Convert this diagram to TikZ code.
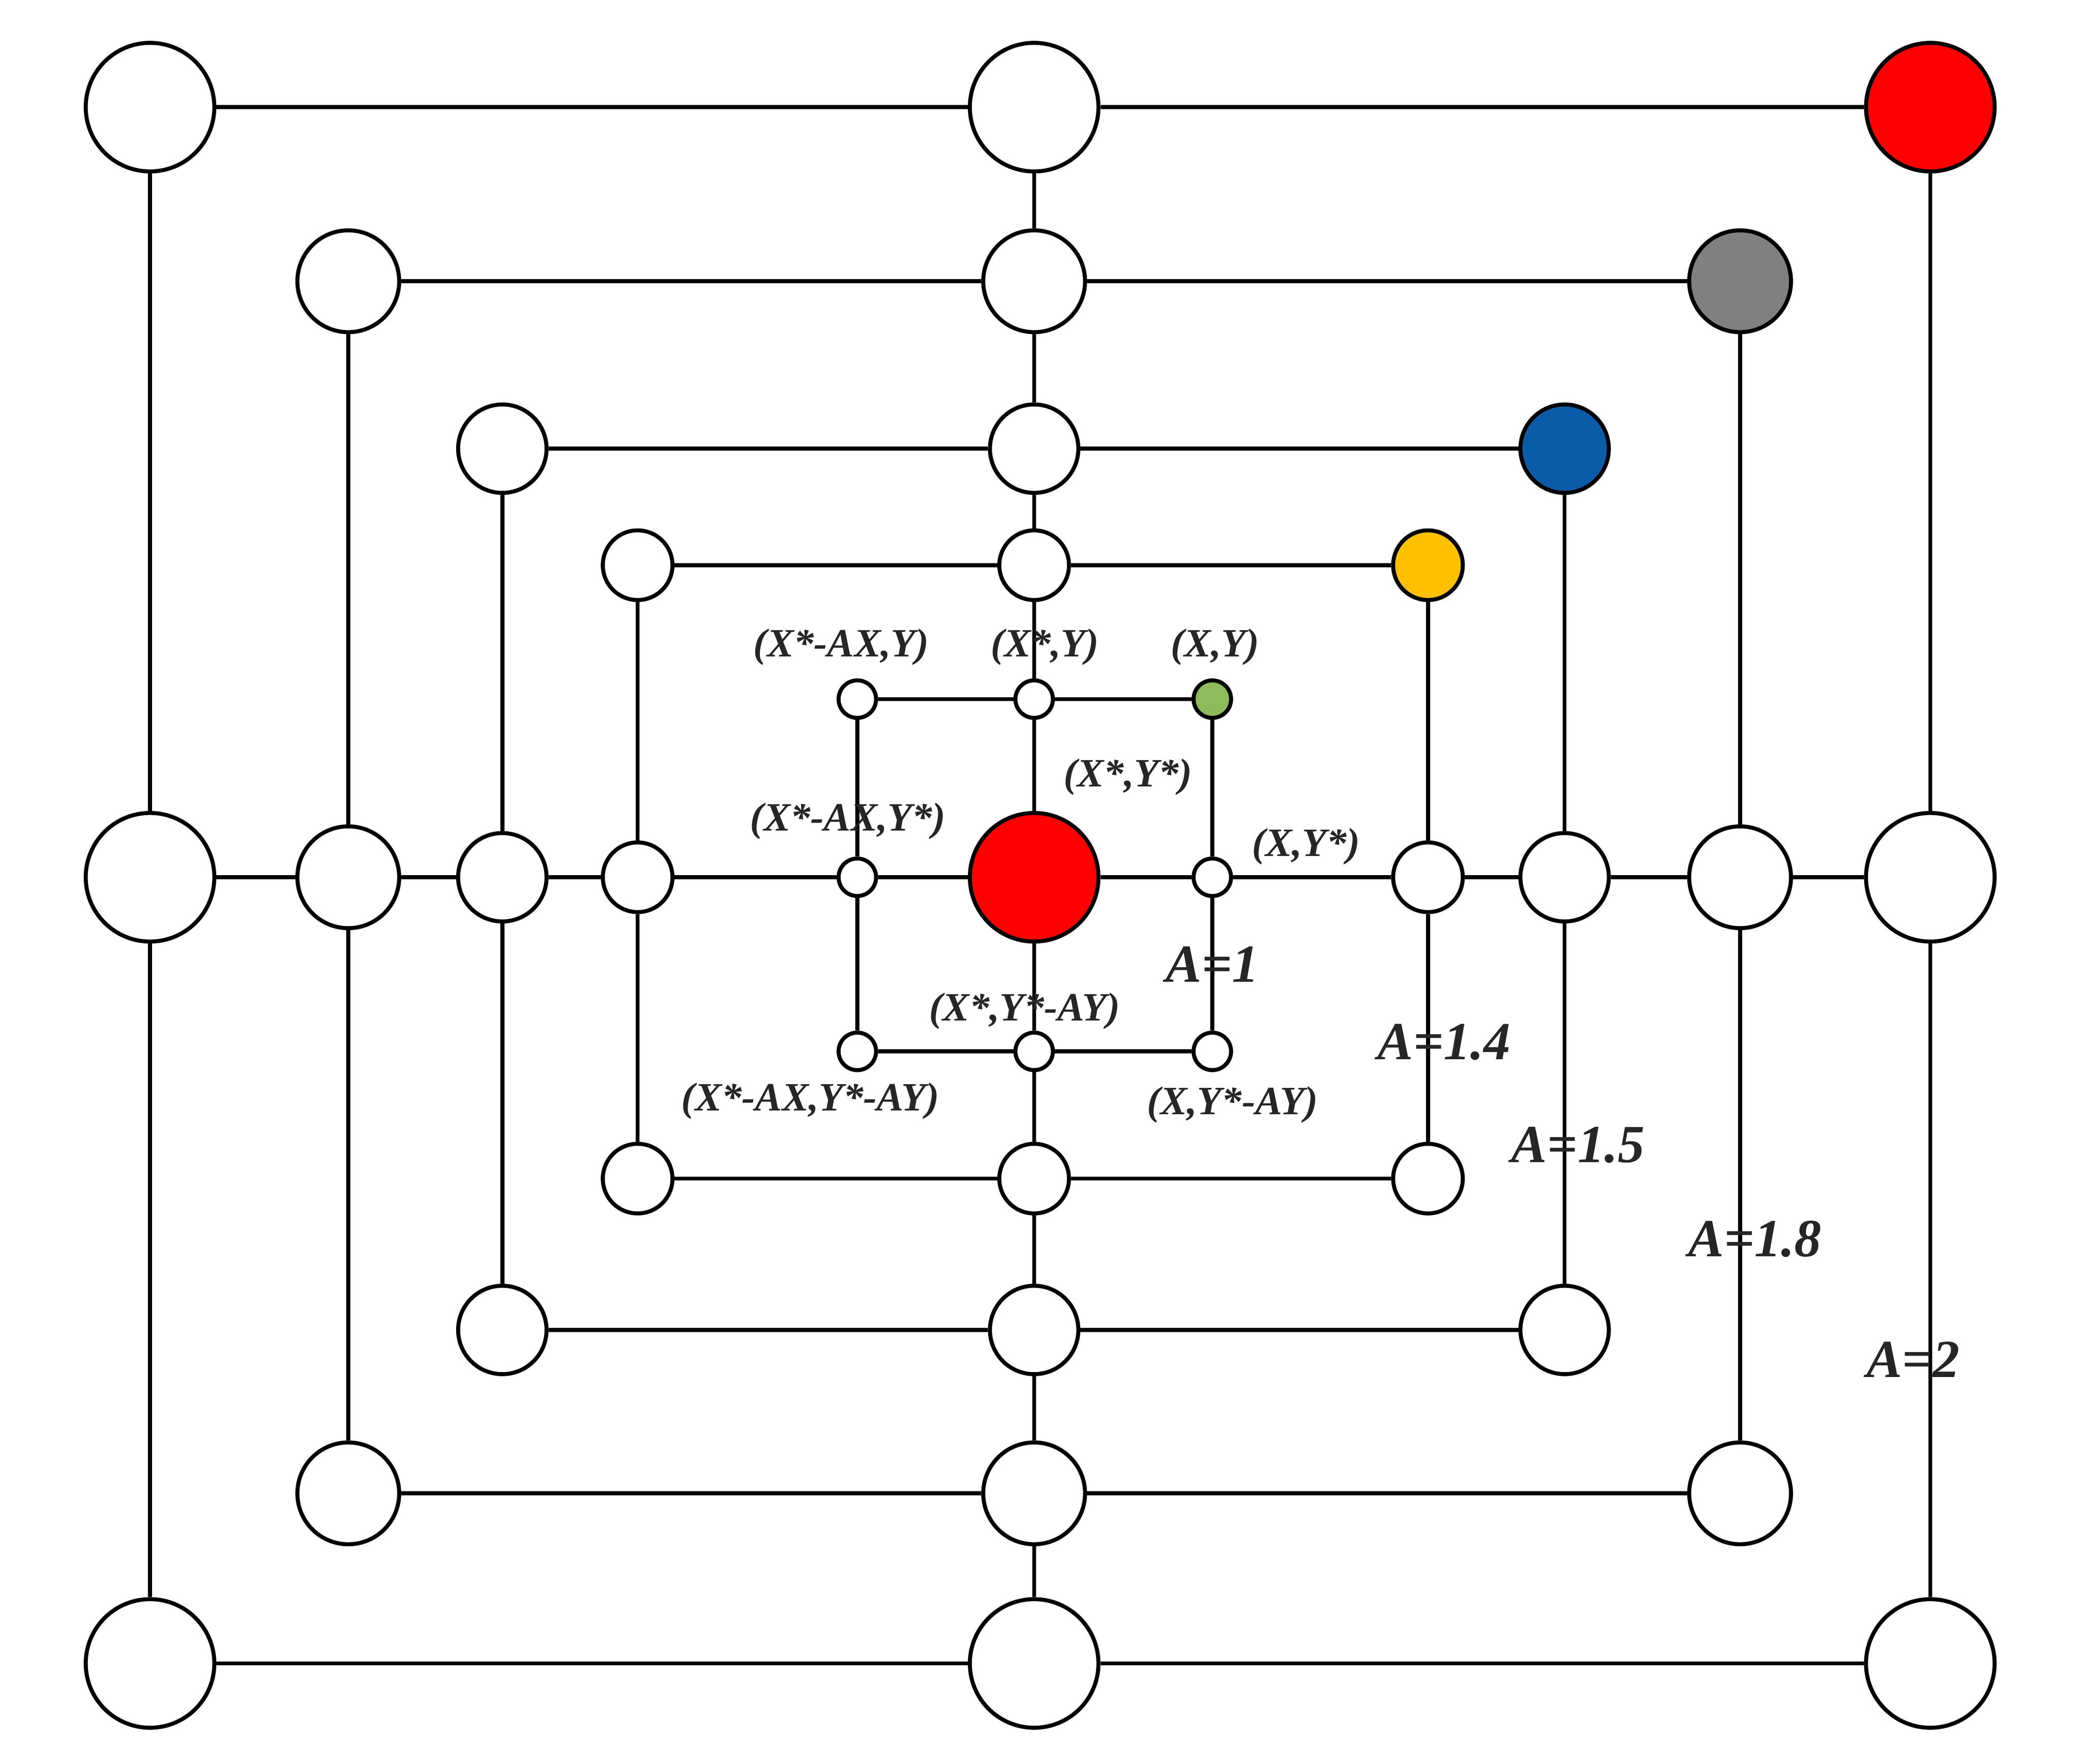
\documentclass[tikz,border=0pt]{standalone}
\usepackage{fontspec}
\setmainfont{Liberation Serif}
\pgfdeclarelayer{bg}
\pgfsetlayers{bg,main}
\definecolor{cblue}{HTML}{0B5CA8}
\definecolor{cyel}{HTML}{FFC000}
\definecolor{cgrn}{HTML}{8FBC5A}
\begin{document}
\begin{tikzpicture}[x=1pt,y=-1pt,
  nd/.style={circle,draw,line width=3pt,fill=white,inner sep=0pt,minimum size=#1},
  lbl/.style={font=\fontsize{30}{32}\selectfont\bfseries\itshape,text=black!85},
  albl/.style={font=\fontsize{40}{44}\selectfont\bfseries\itshape,text=black!85},
  ln/.style={line width=3pt}]
\useasboundingbox (0,0) rectangle (1555,1317);
\def\cx{772}\def\cy{655}
\foreach \nm/\xl/\xr/\yt/\yb/\dd/\ff in {a/112/1441/80/1242/96/red,b/260/1299/210/1115/76/gray,c/375/1168/335/993/66/cblue,d/476/1066/422/880/52/cyel,e/640/905/522/785/28/cgrn}{
  \node[nd=\dd pt] (\nm tl) at (\xl,\yt) {};
  \node[nd=\dd pt] (\nm tm) at (\cx,\yt) {};
  \node[nd=\dd pt,fill=\ff] (\nm tr) at (\xr,\yt) {};
  \node[nd=\dd pt] (\nm ml) at (\xl,\cy) {};
  \node[nd=\dd pt] (\nm mr) at (\xr,\cy) {};
  \node[nd=\dd pt] (\nm bl) at (\xl,\yb) {};
  \node[nd=\dd pt] (\nm bm) at (\cx,\yb) {};
  \node[nd=\dd pt] (\nm br) at (\xr,\yb) {};
  \begin{pgfonlayer}{bg}
  \draw[ln] (\nm tl) -- (\nm tm) -- (\nm tr) -- (\nm mr) -- (\nm br) -- (\nm bm) -- (\nm bl) -- (\nm ml) -- (\nm tl);
  \end{pgfonlayer}
}
\node[nd=96pt,fill=red] (c0) at (\cx,\cy) {};
\begin{pgfonlayer}{bg}
\draw[ln] (atm) -- (btm) -- (ctm) -- (dtm) -- (etm) -- (c0) -- (ebm) -- (dbm) -- (cbm) -- (bbm) -- (abm);
\draw[ln] (aml) -- (bml) -- (cml) -- (dml) -- (eml) -- (c0) -- (emr) -- (dmr) -- (cmr) -- (bmr) -- (amr);
\end{pgfonlayer}
\node[lbl] (l1) at (628,483) {(X*-AX,Y)};
\node[lbl] (l2) at (780,483) {(X*,Y)};
\node[lbl] (l3) at (907,483) {(X,Y)};
\node[lbl] (l4) at (842,580) {(X*,Y*)};
\node[lbl] (l5) at (633,613) {(X*-AX,Y*)};
\node[lbl] (l6) at (975,632) {(X,Y*)};
\node[lbl] (l7) at (765,755) {(X*,Y*-AY)};
\node[lbl] (l8) at (605,822) {(X*-AX,Y*-AY)};
\node[lbl] (l9) at (920,825) {(X,Y*-AY)};
\node[albl] (m1) at (905,720) {A=1};
\node[albl] (m2) at (1078,778) {A=1.4};
\node[albl] (m3) at (1178,855) {A=1.5};
\node[albl] (m4) at (1310,925) {A=1.8};
\node[albl] (m5) at (1428,1015) {A=2};
\end{tikzpicture}
\end{document}
